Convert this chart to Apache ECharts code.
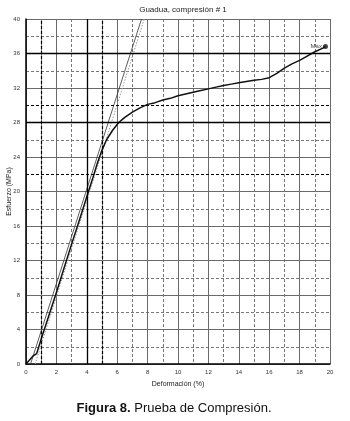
<!DOCTYPE html>
<html>
<head>
<meta charset="utf-8">
<script src="https://cdn.jsdelivr.net/npm/echarts@6/dist/echarts.min.js"></script>
<style>html,body{margin:0;padding:0;background:#fff}#c{width:350px;height:421px}</style>
</head>
<body>
<div id="c"></div>
<script>
// Main measured curve: deformation (%) and stress (MPa)
var strain = [0,0.2,0.45,0.7,1.0,1.5,2.0,2.5,3.0,3.5,4.0,4.4,4.7,5.0,5.3,5.7,6.1,6.5,7.0,7.5,8.0,8.5,9.0,9.5,10.0,10.5,11.0,11.5,12.0,12.5,13.0,13.5,14.0,14.5,15.0,15.5,16.0,16.5,17.0,17.5,18.0,18.5,19.0,19.5,19.7];
var stress = [0,0.4,0.9,1.2,2.9,5.6,8.3,11.1,13.9,16.6,19.4,21.6,23.3,24.8,26.0,27.1,28.0,28.6,29.2,29.7,30.1,30.3,30.6,30.8,31.1,31.3,31.5,31.7,31.9,32.1,32.3,32.45,32.6,32.75,32.9,33.0,33.2,33.7,34.3,34.8,35.2,35.7,36.2,36.6,36.8];
// Straight reference lines (tangent and offset)
var tangentX = [0.3, 7.6];
var tangentY = [0, 40];
var offsetX = [0.6, 7.78];
var offsetY = [0, 40];
// Emphasized reference grid lines
var refSolidX = [4];
var refDashX = [1, 5];
var refSolidY = [28, 36];
var refDashY = [22, 30];
var maxPoint = [19.7, 36.8];

var curve = strain.map(function(x,i){return [x, stress[i]];});
var tangent = tangentX.map(function(x,i){return [x, tangentY[i]];});
var offset = offsetX.map(function(x,i){return [x, offsetY[i]];});

var ml = [];
refSolidX.forEach(function(v){ml.push({xAxis:v, lineStyle:{color:'#000',width:1.3,type:'solid'}});});
refDashX.forEach(function(v){ml.push({xAxis:v, lineStyle:{color:'#000',width:1.2,type:[3,2]}});});
refSolidY.forEach(function(v){ml.push({yAxis:v, lineStyle:{color:'#000',width:1.3,type:'solid'}});});
refDashY.forEach(function(v){ml.push({yAxis:v, lineStyle:{color:'#000',width:1.2,type:[3,2]}});});

var chart = echarts.init(document.getElementById('c'), null, {renderer:'canvas'});
var FF = 'Liberation Sans, Arial, sans-serif';
var lab = {fontSize:6, color:'#333', fontFamily:FF};
chart.setOption({
  animation:false,
  backgroundColor:'#fff',
  title:[{
    text:'Guadua, compresión # 1', left:178, top:1, textAlign:'center',
    textStyle:{fontSize:8, fontWeight:'normal', color:'#222', fontFamily:FF}
  },{
    text:'{b|Figura 8.}{n| Prueba de Compresión.}', left:169, top:397, textAlign:'center',
    textStyle:{rich:{
      b:{fontSize:13, fontWeight:'bold', color:'#111', fontFamily:FF},
      n:{fontSize:13, fontWeight:'normal', color:'#111', fontFamily:FF}
    }}
  }],
  grid:{left:26, right:20, top:19, bottom:57, show:false, containLabel:false, outerBoundsMode:'none'},
  xAxis:{
    type:'value', min:0, max:20, interval:2,
    name:'Deformación (%)', nameLocation:'middle', nameGap:17, nameMoveOverlap:false,
    nameTextStyle:{fontSize:7, color:'#222', fontFamily:FF},
    axisLine:{show:true, onZero:false, lineStyle:{color:'#000', width:1.5}},
    axisTick:{show:false},
    axisLabel:Object.assign({margin:5}, lab),
    splitLine:{show:true, lineStyle:{color:'#6a6a6a', width:1}},
    minorTick:{show:true, splitNumber:2, length:0},
    minorSplitLine:{show:true, lineStyle:{color:'#777', width:1, type:[3,2]}}
  },
  yAxis:{
    type:'value', min:0, max:40, interval:4,
    name:'Esfuerzo (MPa)', nameLocation:'middle', nameGap:13, nameMoveOverlap:false,
    nameTextStyle:{fontSize:7, color:'#222', fontFamily:FF},
    axisLine:{show:true, onZero:false, lineStyle:{color:'#000', width:1.5}},
    axisTick:{show:false},
    axisLabel:Object.assign({margin:6}, lab),
    splitLine:{show:true, lineStyle:{color:'#6a6a6a', width:1}},
    minorTick:{show:true, splitNumber:2, length:0},
    minorSplitLine:{show:true, lineStyle:{color:'#777', width:1, type:[3,2]}}
  },
  series:[
    {type:'line', data:[], silent:true, markLine:{silent:true, symbol:'none', label:{show:false}, data:ml, animation:false}},
    {type:'line', data:offset, showSymbol:false, silent:true, lineStyle:{color:'#999', width:1, type:[1.5,1.5]}},
    {type:'line', data:tangent, showSymbol:false, silent:true, lineStyle:{color:'#333', width:0.8}},
    {type:'line', data:curve, showSymbol:false, silent:true, lineStyle:{color:'#111', width:1.5}},
    {type:'scatter', data:[maxPoint], symbolSize:5, itemStyle:{color:'#111'}, silent:true,
     label:{show:true, position:'left', distance:1, formatter:'Max', fontSize:6, color:'#222', fontFamily:FF}}
  ]
});
</script>
</body>
</html>
